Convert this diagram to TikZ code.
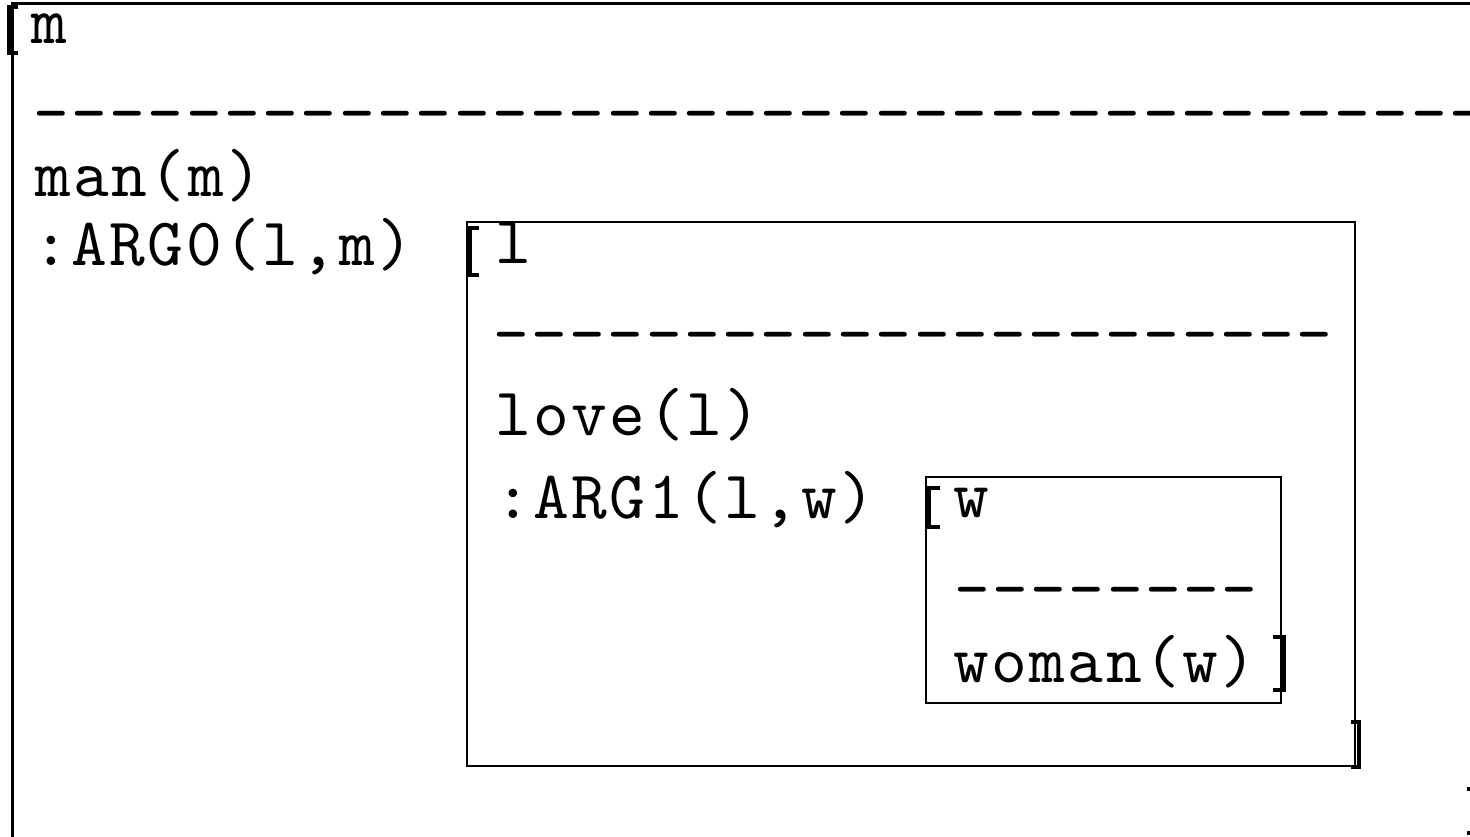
\documentclass[tikz,border=0pt]{standalone}
\usepackage{fontspec}
\newfontfamily\drsmono[LetterSpace=3.8]{lmmono10-regular.otf}
\begin{document}
\begin{tikzpicture}[x=1pt,y=-1pt,
  txt/.style={anchor=base west,inner sep=0pt,outer sep=0pt,font=\drsmono\fontsize{68}{68}\selectfont},
  drsbox/.style={draw=black},
  brk/.style={draw=black,line width=4.5pt,line join=miter,line cap=butt}]
\useasboundingbox (0,0) rectangle (1470,836);
\clip (0,0) rectangle (1470,836);
\fill[white] (0,0) rectangle (1470,836);
% outer box
\draw[drsbox,line width=3pt] (12,3) rectangle (1520,900);
\draw[brk] (18,7) -- (9,7) -- (9,53) -- (18,53);
\node[txt,text height=30pt] (om) at (31,43) {m};
\node[txt] (odash) at (33,134) {--------------------------------------};
\node[txt] (oman) at (35,196) {man(m)};
\node[txt] (oarg) at (33,265) {:ARG0(l,m)};
\draw[brk] (1467,789) -- (1478,789) -- (1478,833) -- (1467,833);
% l box
\draw[drsbox,line width=2pt] (467,222) rectangle (1355,766);
\draw[brk] (479,228) -- (470,228) -- (470,275) -- (479,275);
\node[txt] (ll) at (495,263) {l};
\node[txt] (ldash) at (493,355) {----------------------};
\node[txt] (llove) at (495,435) {love(l)};
\node[txt] (larg) at (495,518) {:ARG1(l,w)};
\draw[brk] (1351,722) -- (1359,722) -- (1359,767) -- (1351,767);
% w box
\draw[drsbox,line width=1.5pt] (926,477) rectangle (1281,703);
\draw[brk] (940,488) -- (929,488) -- (929,527) -- (940,527);
\node[txt] (ww) at (953,517) {w};
\node[txt] (wdash) at (954,610) {--------};
\node[txt] (wwoman) at (953,682) {woman(w)};
\draw[brk] (1273,637) -- (1284,637) -- (1284,690) -- (1273,690);
\end{tikzpicture}
\end{document}
